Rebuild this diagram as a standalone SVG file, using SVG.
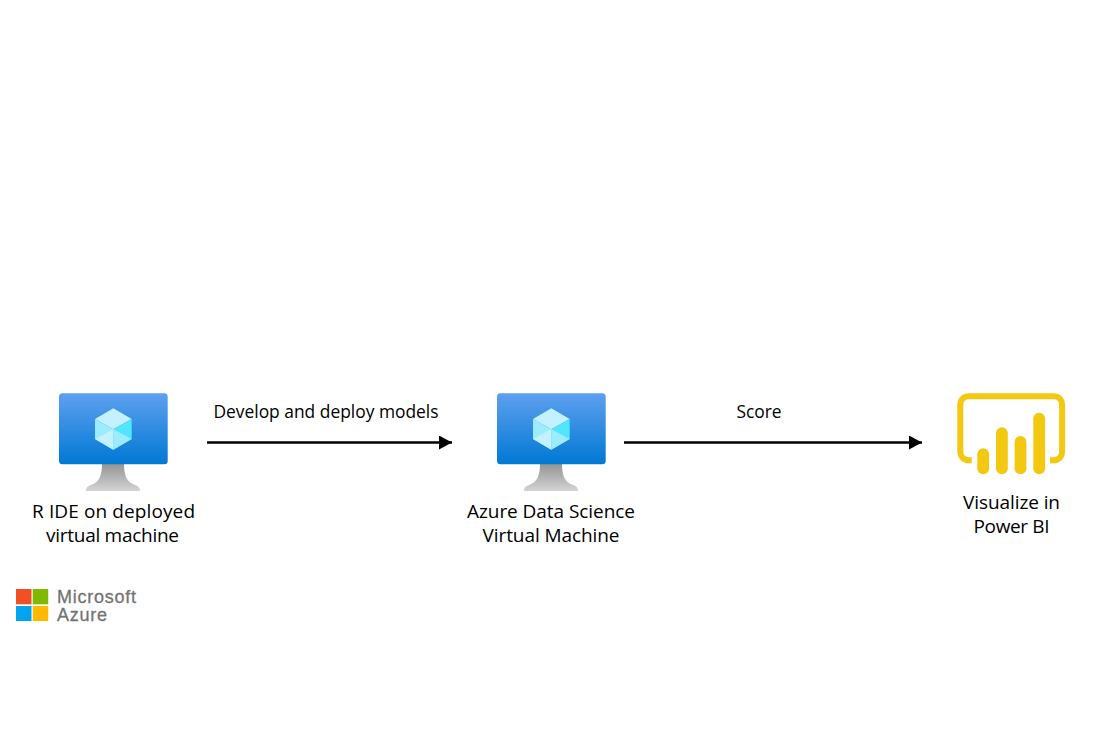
<svg xmlns="http://www.w3.org/2000/svg" width="1103" height="735" viewBox="0 0 1103 735">
<style>
text{font-family:"Open Sans","Noto Sans","Liberation Sans",sans-serif;fill:#000}
.n{font-size:19px;text-anchor:middle}
.e{font-size:17.4px;text-anchor:middle}
.c{stroke:#000;stroke-width:2.6;fill:none}
.b{fill:#f2c811}
.lg{font-family:"Liberation Sans",Arial,sans-serif;font-size:18px;fill:#737373;stroke:#737373;stroke-width:.3}
</style>
<defs>
<linearGradient id="sc" x1="0" y1="0" x2="0" y2="1"><stop offset="0" stop-color="#5ea0ef"/><stop offset="1" stop-color="#0078d4"/></linearGradient>
<linearGradient id="st" x1="0" y1="0" x2="0" y2="1"><stop offset="0" stop-color="#949494"/><stop offset="1" stop-color="#d4d4d4"/></linearGradient>
<marker id="ah" markerUnits="userSpaceOnUse" markerWidth="13" markerHeight="14" refX="13" refY="7" orient="auto"><path d="M0 0L13 7L0 14Z" fill="#000"/></marker>
<g id="vm">
<path d="M102 464C102 476 99 482 91 485C87 486.500 86 488 86 491H140C140 488 139 486.500 135 485C127 482 124 476 124 464Z" fill="url(#st)"/>
<rect x="59" y="393.300" width="108.700" height="71" rx="3.500" fill="url(#sc)"/>
<path d="M113.300 408.300L131.700 419L113.300 429.300L95 419Z" fill="#c3f1ff"/>
<path d="M95 419L113.300 429.300V449.700L95 439Z" fill="#9cebff"/>
<path d="M131.700 419L113.300 429.300V449.700L131.700 439Z" fill="#50e6ff"/>
<path d="M113.300 429.300L95 439L113.300 449.700Z" fill="#c3f1ff"/>
<path d="M113.300 429.300L131.700 439L113.300 449.700Z" fill="#9cebff"/>
</g>
</defs>
<rect width="1103" height="735" fill="#fff"/>
<g id="connectors">
<line class="c" x1="207" y1="442.500" x2="452" y2="442.500" marker-end="url(#ah)"/>
<line class="c" x1="624" y1="442.500" x2="922" y2="442.500" marker-end="url(#ah)"/>
</g>
<g id="edge-labels">
<text class="e" x="326" y="418">Develop and deploy models</text>
<text class="e" x="759" y="418">Score</text>
</g>
<g id="node-r-ide">
<use href="#vm"/>
<text class="n" x="113.500" y="517.500" textLength="163">R IDE on deployed</text>
<text class="n" x="112.500" y="542" textLength="133">virtual machine</text>
</g>
<g id="node-dsvm">
<use href="#vm" x="438"/>
<text class="n" x="551" y="517.500" textLength="168">Azure Data Science</text>
<text class="n" x="551" y="542" textLength="137">Virtual Machine</text>
</g>
<g id="node-powerbi">
<path d="M971.700 460.300H969C964 460.300 960.300 456.600 960.300 451.600V405C960.300 399.800 964 396.300 969 396.300H1053.500C1058.500 396.300 1062.100 399.800 1062.100 405V451.600C1062.100 456.600 1058.500 460.300 1053.500 460.300H1050" fill="none" stroke="#f2c811" stroke-width="6"/>
<rect class="b" x="977.300" y="448.300" width="11.800" height="26" rx="5.900"/>
<rect class="b" x="996" y="427.300" width="11.800" height="47" rx="5.900"/>
<rect class="b" x="1014.600" y="436" width="11.800" height="38.300" rx="5.900"/>
<rect class="b" x="1033.300" y="412.700" width="11.800" height="61.600" rx="5.900"/>
<text class="n" x="1011.500" y="508.500" textLength="97">Visualize in</text>
<text class="n" x="1011.500" y="533" textLength="76">Power BI</text>
</g>
<g id="logo">
<rect x="16" y="589" width="15.500" height="15.300" fill="#f25022"/>
<rect x="32.700" y="589" width="15.500" height="15.300" fill="#7fba00"/>
<rect x="16" y="606" width="15.500" height="15" fill="#00a4ef"/>
<rect x="32.700" y="606" width="15.500" height="15" fill="#ffb900"/>
<text class="lg" x="57" y="602.500" textLength="79">Microsoft</text>
<text class="lg" x="57" y="621" textLength="50">Azure</text>
</g>
</svg>
